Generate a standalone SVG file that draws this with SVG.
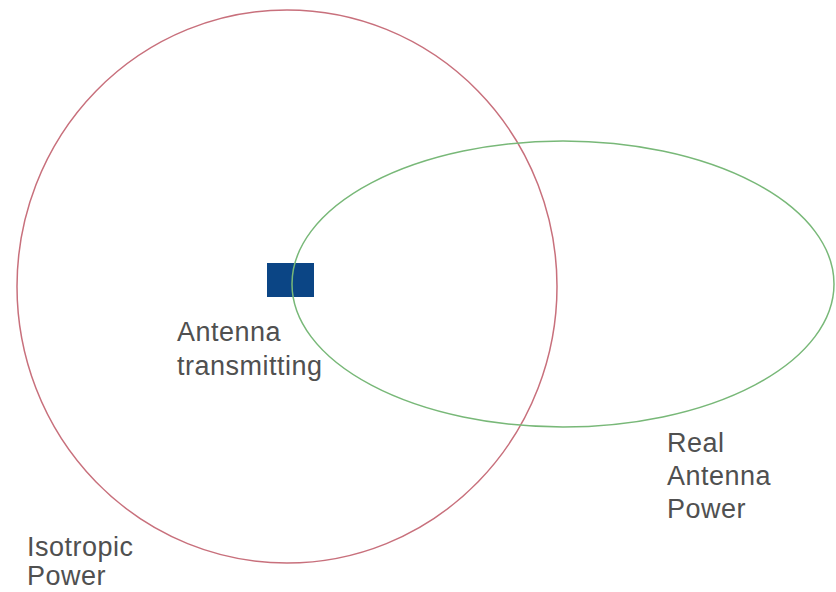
<svg xmlns="http://www.w3.org/2000/svg" width="836" height="592" viewBox="0 0 836 592">
<style>
.lbl{font-family:"Liberation Sans",Arial,sans-serif;font-size:27px;letter-spacing:0.5px;fill:#505050}
.iso{fill:none;stroke:#c8707c;stroke-width:1.5}
.real{fill:none;stroke:#78b878;stroke-width:1.5}
</style>
<rect width="836" height="592" fill="#ffffff"/>
<g id="isotropic">
<ellipse class="iso" cx="287" cy="286.5" rx="270" ry="276.5"/>
<text class="lbl" x="27" y="556">Isotropic</text>
<text class="lbl" x="27" y="585">Power</text>
</g>
<g id="antenna">
<rect x="267" y="263" width="47" height="34" fill="#0b4585"/>
<text class="lbl" x="177" y="341">Antenna</text>
<text class="lbl" x="177" y="375">transmitting</text>
</g>
<g id="real">
<ellipse class="real" cx="563" cy="284" rx="271" ry="143"/>
<text class="lbl" x="667" y="452">Real</text>
<text class="lbl" x="667" y="485">Antenna</text>
<text class="lbl" x="667" y="518">Power</text>
</g>
<g id="connectors"></g>
</svg>
